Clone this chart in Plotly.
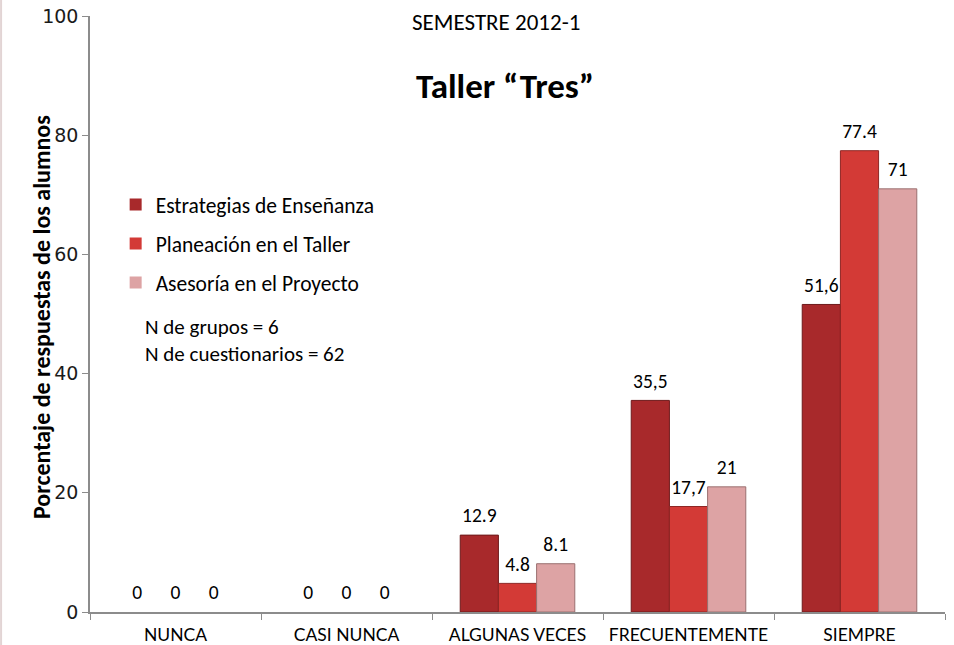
import plotly.graph_objects as go

categories = ["NUNCA", "CASI NUNCA", "ALGUNAS VECES", "FRECUENTEMENTE", "SIEMPRE"]
series_names = ["Estrategias de Enseñanza", "Planeación en el Taller", "Asesoría en el Proyecto"]
estrategias = [0, 0, 12.9, 35.5, 51.6]
planeacion = [0, 0, 4.8, 17.7, 77.4]
asesoria = [0, 0, 8.1, 21, 71]
estrategias_labels = ["0", "0", "12.9", "35,5", "51,6"]
planeacion_labels = ["0", "0", "4.8", "17,7", "77.4"]
asesoria_labels = ["0", "0", "8.1", "21", "71"]
y_ticks = [0, 20, 40, 60, 80, 100]

colors = ["#A8292B", "#D33A36", "#DDA3A4"]
line_colors = ["#6E1A1B", "#8E2624", "#9A7070"]

FONT = "Carlito, Calibri, Lato, 'Open Sans', sans-serif"

fig = go.Figure()
all_vals = [estrategias, planeacion, asesoria]
all_labels = [estrategias_labels, planeacion_labels, asesoria_labels]

for i in range(3):
    fig.add_trace(go.Bar(
        x=categories, y=all_vals[i], name=series_names[i],
        marker=dict(color=colors[i],
                    line=dict(color=line_colors[i],
                              width=[0 if v == 0 else 1 for v in all_vals[i]])),
        legendgroup=f"g{i}",
    ))
for i in range(3):
    fig.add_trace(go.Scatter(
        x=categories, y=all_vals[i], mode="markers+text",
        text=all_labels[i], textposition="top center",
        marker=dict(size=11, color="rgba(0,0,0,0)"),
        textfont=dict(family=FONT, size=19.5, color="#000000"),
        showlegend=False, hoverinfo="skip",
    ))

fig.update_layout(
    width=954, height=645,
    margin=dict(l=90, r=9, t=16, b=33, autoexpand=False),
    paper_bgcolor="white", plot_bgcolor="white",
    barmode="group", bargap=0.33, bargroupgap=0,
    scattermode="group", scattergap=0.33,
    font=dict(family=FONT, size=14, color="#000000"),
    showlegend=True,
    legend=dict(
        x=0.030, y=0.718, xanchor="left", yanchor="top",
        font=dict(family=FONT, size=21.5, color="#000000"),
        tracegroupgap=8, traceorder="grouped",
        bgcolor="rgba(0,0,0,0)",
        itemwidth=30,
    ),
    xaxis=dict(
        showline=True, linecolor="#8C8C8C", linewidth=1.5,
        ticks="outside", tickson="boundaries", ticklen=6, tickcolor="#8C8C8C",
        tickfont=dict(family="Lato, sans-serif", size=17.5, color="#000000"),
        ticklabelstandoff=6,
        showgrid=False, automargin=False,
    ),
    yaxis=dict(
        range=[0, 100], tickvals=y_ticks,
        showline=True, linecolor="#8C8C8C", linewidth=1.5,
        ticks="outside", ticklen=6, tickcolor="#8C8C8C",
        tickfont=dict(family="DejaVu Sans, sans-serif", size=19, color="#1A1A1A"),
        showgrid=False, zeroline=False, automargin=False,
    ),
    annotations=[
        dict(text="SEMESTRE 2012-1", x=0.475, y=0.99, xref="paper", yref="paper",
             showarrow=False, font=dict(family=FONT, size=23, color="#000000"),
             xanchor="center", yanchor="middle"),
        dict(text="<b>Taller “Tres”</b>", x=0.485, y=0.882, xref="paper", yref="paper",
             showarrow=False, font=dict(family=FONT, size=35, color="#000000"),
             xanchor="center", yanchor="middle"),
        dict(text="N de grupos = 6<br>N de cuestionarios = 62", x=0.062, y=0.456,
             xref="paper", yref="paper", showarrow=False, align="left",
             font=dict(family=FONT, size=21, color="#000000"),
             xanchor="left", yanchor="middle"),
        dict(text="<b>Porcentaje de respuestas de los alumnos</b>", textangle=-90,
             x=-0.056, y=0.495, xref="paper", yref="paper", showarrow=False,
             font=dict(family=FONT, size=24, color="#000000"),
             xanchor="center", yanchor="middle"),
    ],
    shapes=[
        dict(type="line", xref="paper", yref="paper", x0=-0.104, x1=-0.104,
             y0=-0.06, y1=1.03, line=dict(color="#E2D4D4", width=2)),
    ],
)

fig.write_html("out.html", config={"displayModeBar": False},
               post_script="document.body.style.margin='0';document.body.style.overflow='hidden';")
